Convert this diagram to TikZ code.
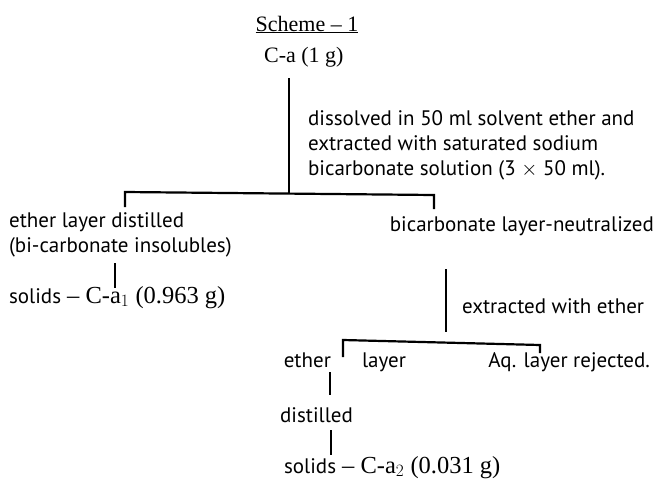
\documentclass[tikz,border=0pt]{standalone}
\usepackage{fontspec}
\setmainfont{Liberation Serif}
\newfontfamily\sansfont{PT Sans}
\usepackage{tikz}

\begin{document}
\begin{tikzpicture}[x=1pt,y=-1pt,line width=2.2pt,
    lbl/.style={inner sep=0pt,font=\sansfont\fontsize{21}{25}\selectfont,align=left},
    val/.style={inner sep=0pt,font=\fontsize{22}{25}\selectfont},
    yield/.style={inner sep=0pt,font=\fontsize{24.5}{25}\selectfont}]
    \useasboundingbox (0,0) rectangle (661,482);

    \node[val,anchor=base] (scheme) at (307,31) {\underline{Scheme -- 1}};
    \node[val,anchor=base west] (ca) at (263,62) {C-a (1 g)};
    % multi-line nodes: base is the last line
    \node[lbl,anchor=base west] (dissolve) at (307,175)
        {dissolved in 50 ml solvent ether and\\
         extracted with saturated sodium\\
         bicarbonate solution (3 $\times$ 50 ml).};
    \node[lbl,anchor=base west] (etherlayer) at (8,252)
        {ether layer distilled\\(bi-carbonate insolubles)};
    \node[lbl,anchor=base east] (bicarb) at (655,231) {bicarbonate layer-neutralized};
    \node[yield,anchor=base west] (solidsA) at (8,303)
        {{\sansfont\fontsize{21}{25}\selectfont solids} -- C-a$_1$ (0.963 g)};
    \node[lbl,anchor=base west] (extract) at (461,313) {extracted with ether};
    \node[lbl,anchor=base east] (ether) at (332,367) {ether};
    \node[lbl,anchor=base west] (layer) at (361,367) {layer};
    \node[lbl,anchor=base east] (aq) at (651,367) {Aq. layer rejected.};
    \node[lbl,anchor=base east] (distilled) at (354,422) {distilled};
    \node[yield,anchor=base west] (solidsB) at (283,473)
        {{\sansfont\fontsize{21}{25}\selectfont solids} -- C-a$_2$ (0.031 g)};

    \coordinate (top) at (289,78);
    \coordinate (fork) at (289,193);
    \coordinate (forkL) at (125,192);
    \coordinate (forkR) at (434,195);
    \draw (top) -- (fork);
    \draw (forkL) ++(0,15) -- (forkL) -- (forkR) -- ++(0,14);
    \draw (115,263) -- (115,288);

    \coordinate (top2) at (446,269);
    \coordinate (fork2L) at (343,340);
    \coordinate (fork2R) at (540,345);
    \draw (top2) -- (446,332);
    \draw (fork2L) ++(0,17) -- (fork2L) -- (fork2R) -- ++(0,8);
    \draw (330,372) -- (330,395);
    \draw (331,430) -- (331,455);
\end{tikzpicture}
\end{document}
